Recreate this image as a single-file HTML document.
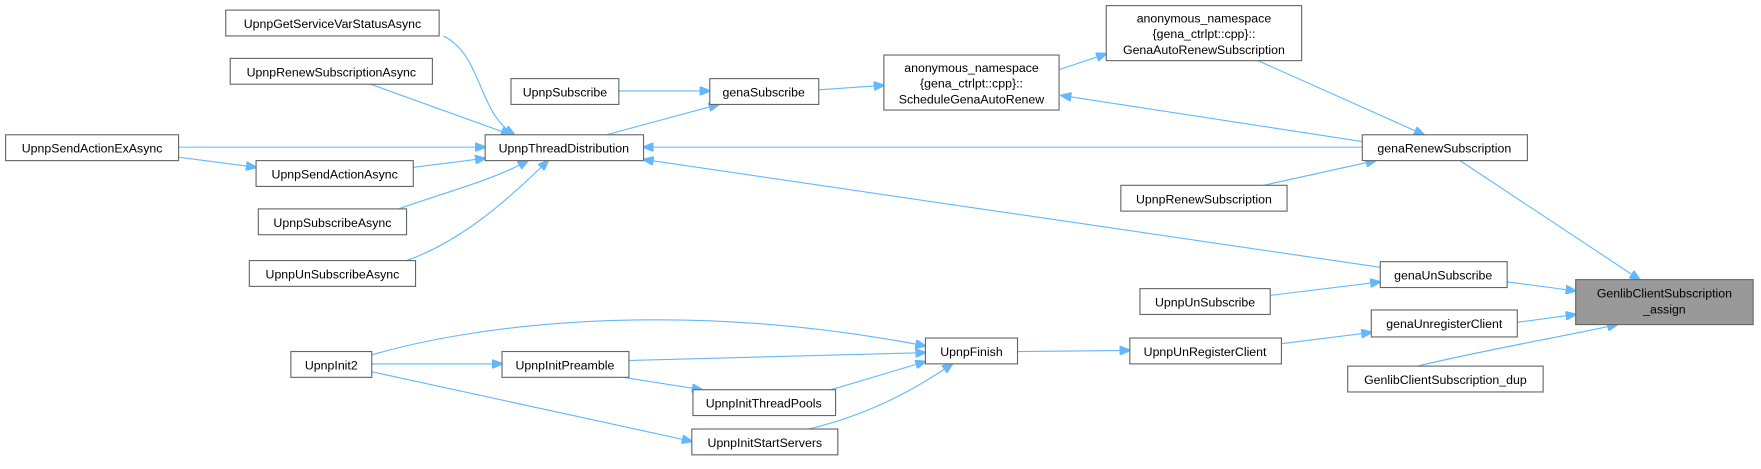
<!DOCTYPE html>
<html><head><meta charset="utf-8"><style>
html,body{margin:0;padding:0;background:#fff;}
svg{display:block}
text{font-family:"Liberation Sans",sans-serif;font-size:11px;fill:#000;text-anchor:middle;}
rect{fill:#fff;stroke:#666;stroke-width:1}
path{fill:none;stroke:#63b8ff;stroke-width:1}
</style></head><body>
<svg width="1761" height="469" viewBox="0 0 1568 417.6" preserveAspectRatio="none" xmlns="http://www.w3.org/2000/svg">
<defs><marker id="a" markerWidth="10" markerHeight="8" refX="9" refY="4" orient="auto" markerUnits="userSpaceOnUse"><path d="M0,0 L10,4 L0,8 z" style="fill:#63b8ff;stroke:#63b8ff"/></marker></defs>
<g marker-end="url(#a)">
<path d="M395,32 C430,50 425,100 458,120"/>
<path d="M330,75 L455,120"/>
<path d="M159,131 L432,131"/>
<path d="M159,140 L228,149"/>
<path d="M368,149 L432,141"/>
<path d="M355,186 C400,170 440,160 470,143"/>
<path d="M362,232 C410,215 450,180 488,143"/>
<path d="M551,81 L632,81"/>
<path d="M540,120 L640,93"/>
<path d="M729,80 L787,76"/>
<path d="M943,62 L985,48"/>
<path d="M1213,126 L945,85"/>
<path d="M1120,54 L1268,120"/>
<path d="M1213,131 L573,131"/>
<path d="M1125,165 L1225,143"/>
<path d="M1229,238 L573,142"/>
<path d="M1131,263 L1229,251"/>
<path d="M1300,143 L1460,249"/>
<path d="M1342,251 L1403,259"/>
<path d="M1351,287 L1403,280"/>
<path d="M1262,326 C1320,312 1390,300 1440,289"/>
<path d="M1141,306 L1221,296"/>
<path d="M906,313 L1006,312"/>
<path d="M331,316 C420,290 600,265 824,308"/>
<path d="M331,324 L447,324"/>
<path d="M560,321 L824,314"/>
<path d="M555,336 L625,347"/>
<path d="M740,347 L824,322"/>
<path d="M331,331 L616,393"/>
<path d="M720,382 C770,370 810,350 848,324"/>
</g>
<rect x="201" y="9" width="190" height="23"/><text x="296" y="25">UpnpGetServiceVarStatusAsync</text>
<rect x="205" y="52" width="180" height="23"/><text x="295" y="68">UpnpRenewSubscriptionAsync</text>
<rect x="455" y="70" width="96" height="23"/><text x="503" y="86">UpnpSubscribe</text>
<rect x="632" y="70" width="97" height="23"/><text x="680" y="86">genaSubscribe</text>
<rect x="787" y="49" width="156" height="49"/><text x="865" y="64">anonymous_namespace</text><text x="865" y="78">{gena_ctrlpt::cpp}::</text><text x="865" y="92">ScheduleGenaAutoRenew</text>
<rect x="985" y="5" width="174" height="49"/><text x="1072" y="20">anonymous_namespace</text><text x="1072" y="34">{gena_ctrlpt::cpp}::</text><text x="1072" y="48">GenaAutoRenewSubscription</text>
<rect x="5" y="120" width="154" height="23"/><text x="82" y="136">UpnpSendActionExAsync</text>
<rect x="432" y="120" width="141" height="23"/><text x="502" y="136">UpnpThreadDistribution</text>
<rect x="1213" y="120" width="147" height="23"/><text x="1286" y="136">genaRenewSubscription</text>
<rect x="228" y="143" width="140" height="23"/><text x="298" y="159">UpnpSendActionAsync</text>
<rect x="998" y="165" width="148" height="23"/><text x="1072" y="181">UpnpRenewSubscription</text>
<rect x="230" y="186" width="132" height="23"/><text x="296" y="202">UpnpSubscribeAsync</text>
<rect x="222" y="232" width="148" height="23"/><text x="296" y="248">UpnpUnSubscribeAsync</text>
<rect x="1229" y="233" width="113" height="23"/><text x="1285" y="249">genaUnSubscribe</text>
<rect x="1403" y="249" width="158" height="40" style="fill:#999;stroke:#666"/><text x="1482" y="265">GenlibClientSubscription</text><text x="1482" y="279">_assign</text>
<rect x="1015" y="257" width="116" height="23"/><text x="1073" y="273">UpnpUnSubscribe</text>
<rect x="1221" y="276" width="130" height="24"/><text x="1286" y="292">genaUnregisterClient</text>
<rect x="259" y="313" width="72" height="23"/><text x="295" y="329">UpnpInit2</text>
<rect x="447" y="313" width="113" height="23"/><text x="503" y="329">UpnpInitPreamble</text>
<rect x="824" y="301" width="82" height="23"/><text x="865" y="317">UpnpFinish</text>
<rect x="1006" y="301" width="135" height="23"/><text x="1073" y="317">UpnpUnRegisterClient</text>
<rect x="1200" y="326" width="174" height="23"/><text x="1287" y="342">GenlibClientSubscription_dup</text>
<rect x="617" y="347" width="127" height="23"/><text x="680" y="363">UpnpInitThreadPools</text>
<rect x="616" y="382" width="130" height="23"/><text x="681" y="398">UpnpInitStartServers</text>
</svg>
</body></html>
